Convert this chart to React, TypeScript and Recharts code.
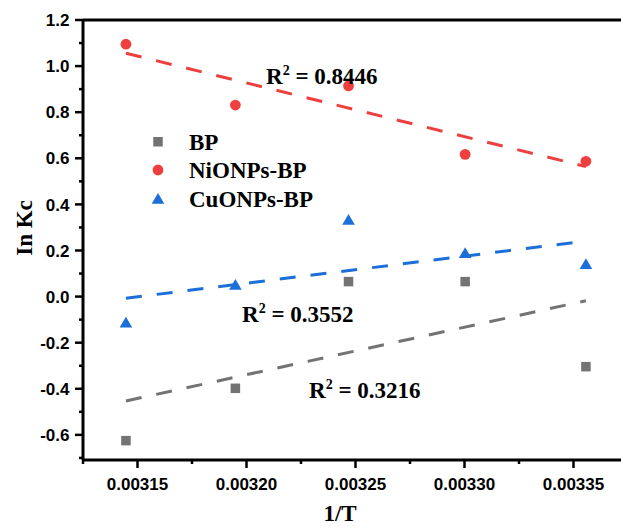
import React from 'react';
import { ComposedChart, XAxis, YAxis, Scatter, Line, ReferenceLine } from 'recharts';

// 1/T values (x)
const invT = [0.0031447, 0.0031949, 0.0032468, 0.0033003, 0.0033557];
// ln Kc values
const bpValues = [-0.625, -0.398, 0.065, 0.065, -0.304];
const niValues = [1.095, 0.831, 0.914, 0.617, 0.587];
const cuValues = [-0.113, 0.05, 0.332, 0.188, 0.14];

// linear fit endpoints
const fitX = [0.0031447, 0.0033557];
const bpFit = [-0.453, -0.018];
const niFit = [1.056, 0.564];
const cuFit = [-0.007, 0.241];

const seriesNames = ['BP', 'NiONPs-BP', 'CuONPs-BP'];
const r2Values = ['0.3216', '0.8446', '0.3552'];

const yMajorTicks = [-0.6, -0.4, -0.2, 0.0, 0.2, 0.4, 0.6, 0.8, 1.0, 1.2];
const yMinorTicks = [-0.7, -0.5, -0.3, -0.1, 0.1, 0.3, 0.5, 0.7, 0.9, 1.1];
const xMajorTicks = [0.00315, 0.0032, 0.00325, 0.0033, 0.00335];
const xMajorLabels = ['0.00315', '0.00320', '0.00325', '0.00330', '0.00335'];
const xMinorTicks = [0.003125, 0.003175, 0.003225, 0.003275, 0.003325, 0.003375];

const GRAY = '#737373';
const RED = '#EF3E3E';
const BLUE = '#1C6FD8';

const SANS = '"Liberation Sans", Arial, sans-serif';
const SERIF = '"Liberation Serif", "Times New Roman", serif';

const toPts = (xs: number[], ys: number[]) => xs.map((x, i) => ({ x, y: ys[i] }));
const bpData = toPts(invT, bpValues);
const niData = toPts(invT, niValues);
const cuData = toPts(invT, cuValues);
const bpFitData = toPts(fitX, bpFit);
const niFitData = toPts(fitX, niFit);
const cuFitData = toPts(fitX, cuFit);

const SquareShape = (p: any) => (
  <rect x={p.cx - 4.75} y={p.cy - 4.75} width={9.5} height={9.5} fill={GRAY} />
);
const CircleShape = (p: any) => <circle cx={p.cx} cy={p.cy} r={5.4} fill={RED} />;
const TriShape = (p: any) => (
  <polygon
    points={`${p.cx},${p.cy - 6} ${p.cx - 6.3},${p.cy + 4.8} ${p.cx + 6.3},${p.cy + 4.8}`}
    fill={BLUE}
  />
);

const YTick = (props: any) => {
  const { x, y, payload } = props;
  const v = payload.value;
  const idx = yMajorTicks.findIndex((t) => Math.abs(t - v) < 1e-6);
  const major = idx >= 0;
  return (
    <g>
      <line x1={x} x2={x - (major ? 8 : 4)} y1={y} y2={y} stroke="#000" strokeWidth={2.5} />
      {major && (
        <text
          x={x - 13.5}
          y={y}
          dy="0.36em"
          textAnchor="end"
          fontFamily={SANS}
          fontWeight="bold"
          fontSize={17}
          fill="#000"
        >
          {yMajorTicks[idx].toFixed(1)}
        </text>
      )}
    </g>
  );
};

const XTick = (props: any) => {
  const { x, y, payload } = props;
  const v = payload.value;
  const idx = xMajorTicks.findIndex((t) => Math.abs(t - v) < 1e-9);
  const major = idx >= 0;
  return (
    <g>
      <line x1={x} x2={x} y1={y} y2={y + (major ? 8 : 4)} stroke="#000" strokeWidth={2.5} />
      {major && (
        <text
          x={x}
          y={y + 30}
          textAnchor="middle"
          fontFamily={SANS}
          fontWeight="bold"
          fontSize={17}
          fill="#000"
        >
          {xMajorLabels[idx]}
        </text>
      )}
    </g>
  );
};

const R2 = ({ x, y, value }: { x: number; y: number; value: string }) => (
  <text x={x} y={y} fontFamily={SERIF} fontWeight="bold" fontSize={23} fill="#000">
    R
    <tspan fontSize={14} dy={-9}>2</tspan>
    <tspan dy={9}>{` = ${value}`}</tspan>
  </text>
);

export default function App() {
  const yTicks = [...yMajorTicks, ...yMinorTicks].sort((a, b) => a - b);
  const xTicks = [...xMajorTicks, ...xMinorTicks].sort((a, b) => a - b);
  return (
    <div
      style={{
        position: 'absolute',
        left: 0,
        top: 0,
        width: 621,
        height: 526,
        overflow: 'hidden',
        background: '#fff',
      }}
    >
      <div style={{ position: 'relative', width: 630, height: 526 }}>
        <ComposedChart width={630} height={526} margin={{ top: 20, right: 2, bottom: 0, left: 0 }}>
          <XAxis
            dataKey="x"
            type="number"
            domain={[0.003125, 0.003375]}
            ticks={xTicks}
            interval={0}
            tickSize={0}
            tickMargin={0}
            tickLine={false}
            height={66}
            axisLine={{ stroke: '#000', strokeWidth: 3 }}
            tick={(p: any) => <XTick {...p} />}
            allowDataOverflow
          />
          <YAxis
            type="number"
            domain={[-0.709, 1.2]}
            ticks={yTicks}
            interval={0}
            tickSize={0}
            tickMargin={0}
            tickLine={false}
            width={83}
            axisLine={{ stroke: '#000', strokeWidth: 3 }}
            tick={(p: any) => <YTick {...p} />}
            allowDataOverflow
          />
          <ReferenceLine y={1.2} stroke="#000" strokeWidth={3} />
          <Scatter name={seriesNames[0]} data={bpData} dataKey="y" shape={SquareShape} isAnimationActive={false} />
          <Scatter name={seriesNames[1]} data={niData} dataKey="y" shape={CircleShape} isAnimationActive={false} />
          <Scatter name={seriesNames[2]} data={cuData} dataKey="y" shape={TriShape} isAnimationActive={false} />
          <Line
            data={bpFitData}
            dataKey="y"
            type="linear"
            stroke={GRAY}
            strokeWidth={3}
            strokeDasharray="16 15"
            dot={false}
            activeDot={false}
            isAnimationActive={false}
          />
          <Line
            data={niFitData}
            dataKey="y"
            type="linear"
            stroke={RED}
            strokeWidth={3}
            strokeDasharray="16 15"
            dot={false}
            activeDot={false}
            isAnimationActive={false}
          />
          <Line
            data={cuFitData}
            dataKey="y"
            type="linear"
            stroke={BLUE}
            strokeWidth={3}
            strokeDasharray="16 15"
            dot={false}
            activeDot={false}
            isAnimationActive={false}
          />
        </ComposedChart>
        <svg
          width={630}
          height={526}
          style={{ position: 'absolute', left: 0, top: 0, pointerEvents: 'none' }}
        >
          {/* legend */}
          <rect x={153.25} y={137} width={9.5} height={9.5} fill={GRAY} />
          <circle cx={158} cy={170} r={5.4} fill={RED} />
          <polygon points="158,193 151.7,203.8 164.3,203.8" fill={BLUE} />
          {seriesNames.map((n, i) => (
            <text
              key={n}
              x={189}
              y={149.5 + i * 28.7}
              fontFamily={SERIF}
              fontWeight="bold"
              fontSize={23}
              fill="#000"
            >
              {n}
            </text>
          ))}
          <R2 x={266} y={84} value={r2Values[1]} />
          <R2 x={242} y={322} value={r2Values[2]} />
          <R2 x={309} y={398} value={r2Values[0]} />
          <text
            x={0}
            y={0}
            transform="translate(32,228) rotate(-90)"
            textAnchor="middle"
            fontFamily={SERIF}
            fontWeight="bold"
            fontSize={23}
            fill="#000"
          >
            In Kc
          </text>
          <text
            x={340}
            y={521}
            textAnchor="middle"
            fontFamily={SERIF}
            fontWeight="bold"
            fontSize={23}
            fill="#000"
          >
            1/T
          </text>
        </svg>
      </div>
    </div>
  );
}
